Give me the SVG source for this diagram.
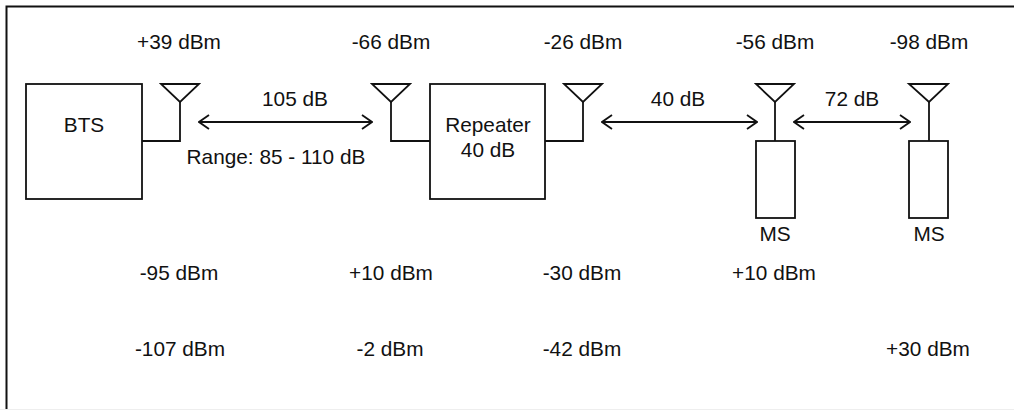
<svg xmlns="http://www.w3.org/2000/svg" width="1014" height="410" viewBox="0 0 1014 410">
<style>
text{font-family:"Liberation Sans",Arial,sans-serif;font-size:20.8px;fill:#111;text-anchor:middle}
.s{fill:none;stroke:#111;stroke-width:1.8}
</style>
<defs>
<marker id="a" viewBox="0 0 12 16" refX="11" refY="8" markerWidth="12" markerHeight="16" markerUnits="userSpaceOnUse" orient="auto-start-reverse"><path d="M1 1L11 8L1 15" fill="none" stroke="#111" stroke-width="1.8"/></marker>
</defs>
<rect width="1014" height="410" fill="#fff"/>
<path d="M0 409.500H1014" stroke="#eee" stroke-width="1" fill="none"/>
<path d="M6.500 409V6.500H1014" fill="none" stroke="#111" stroke-width="2"/>
<g id="bts"><rect class="s" x="26" y="84" width="116" height="115"/><text x="84" y="132">BTS</text></g>
<g id="ant1"><path class="s" d="M161 84H199L180 102Z"/><text x="179" y="49">+39 dBm</text><text x="179" y="280">-95 dBm</text><text x="180" y="356">-107 dBm</text></g>
<g id="ant2"><path class="s" d="M372 84H410L391 102Z"/><text x="391" y="49">-66 dBm</text><text x="391" y="280">+10 dBm</text><text x="390" y="356">-2 dBm</text></g>
<g id="repeater"><rect class="s" x="430" y="84" width="115" height="115"/><text x="488" y="132">Repeater</text><text x="488" y="157">40 dB</text></g>
<g id="ant3"><path class="s" d="M564 84H602L583 102Z"/><text x="583" y="49">-26 dBm</text><text x="582" y="280">-30 dBm</text><text x="582" y="356">-42 dBm</text></g>
<g id="ms1"><path class="s" d="M756 84H794L775 102Z"/><rect class="s" x="756" y="141" width="39" height="77"/><text x="775" y="241">MS</text><text x="775" y="49">-56 dBm</text><text x="774" y="280">+10 dBm</text></g>
<g id="ms2"><path class="s" d="M909 84H948L929 102Z"/><rect class="s" x="909" y="141" width="39" height="77"/><text x="929" y="241">MS</text><text x="929" y="49">-98 dBm</text><text x="928" y="356">+30 dBm</text></g>
<g id="connectors">
<path class="s" d="M142 141H180V102"/>
<path class="s" d="M430 141H391V102"/>
<path class="s" d="M545 141H583V102"/>
<path class="s" d="M775 102V141"/>
<path class="s" d="M929 102V141"/>
<path class="s" d="M199 122H372" marker-start="url(#a)" marker-end="url(#a)"/>
<path class="s" d="M602 122H757" marker-start="url(#a)" marker-end="url(#a)"/>
<path class="s" d="M794 122H910" marker-start="url(#a)" marker-end="url(#a)"/>
</g>
<g id="labels"><text x="295" y="106">105 dB</text><text x="276" y="164">Range: 85 - 110 dB</text><text x="678" y="106">40 dB</text><text x="852" y="106">72 dB</text></g>
</svg>
